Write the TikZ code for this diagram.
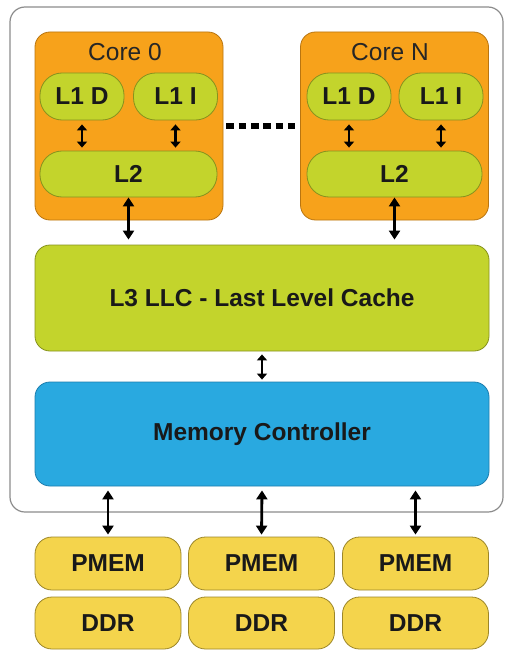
\documentclass[tikz,border=0pt]{standalone}
\usepackage{fontspec}
\setmainfont{Liberation Sans}
\usepackage{tikz}
\usetikzlibrary{arrows.meta,calc}
\definecolor{corefill}{HTML}{F7A21B}
\definecolor{coreline}{HTML}{B97510}
\definecolor{cachefill}{HTML}{C3D42C}
\definecolor{cacheline}{HTML}{86921E}
\definecolor{mcfill}{HTML}{29A9E0}
\definecolor{mcline}{HTML}{1C7DAE}
\definecolor{memfill}{HTML}{F4D44C}
\definecolor{memline}{HTML}{9C8628}
\definecolor{chipline}{HTML}{8C8C8C}
\tikzstyle{box} = [rectangle, rounded corners=15pt, draw, line width=0.8pt, inner sep=0pt,
    font=\fontsize{24.5}{28}\selectfont\bfseries, text=black!90]
\tikzstyle{core} = [box, fill=corefill, draw=coreline, minimum width=188pt, minimum height=188pt]
\tikzstyle{cache} = [box, fill=cachefill, draw=cacheline]
\tikzstyle{pill} = [cache, rounded corners=22pt, minimum width=84pt, minimum height=47pt]
\tikzstyle{mem} = [box, fill=memfill, draw=memline, rounded corners=17pt, minimum width=146pt, minimum height=53pt]
\tikzstyle{link} = [{Triangle[length=9pt,width=11pt]}-{Triangle[length=9pt,width=11pt]}, line width=2.8pt]
\tikzstyle{short} = [{Triangle[length=6pt,width=10pt]}-{Triangle[length=6pt,width=10pt]}, line width=2.8pt]

\begin{document}
\begin{tikzpicture}[x=1pt,y=-1pt]
\useasboundingbox (0,0) rectangle (504,650);

\node[box, draw=chipline, fill=white, line width=1.2pt, minimum width=493pt, minimum height=505pt] (chip) at (256.5,259.5) {};

% cores
\node[core] (core0) at (129,126) {};
\node[font=\fontsize{24.5}{28}\selectfont, text=black!85] (core0label) at (125,52) {Core 0};
\node[pill] (l1d0) at (82,96.5) {L1 D};
\node[pill] (l1i0) at (175.5,96.5) {L1 I};
\node[cache, rounded corners=22pt, minimum width=177pt, minimum height=46pt] (l20) at (128.5,174) {L2};

\node[core] (coreN) at (394.5,126) {};
\node[font=\fontsize{24.5}{28}\selectfont, text=black!85] (coreNlabel) at (390,52) {Core N};
\node[pill] (l1dN) at (349,96.5) {L1 D};
\node[pill] (l1iN) at (441,96.5) {L1 I};
\node[cache, rounded corners=22pt, minimum width=175pt, minimum height=46pt] (l2N) at (394.5,174) {L2};

\draw[line width=6pt, dash pattern=on 7.5pt off 4.8pt] ([xshift=3pt]core0.east) -- ([xshift=-5pt]coreN.west);

% shared
\node[cache, minimum width=454pt, minimum height=106pt] (l3) at (262,298) {L3 LLC - Last Level Cache};
\node[box, fill=mcfill, draw=mcline, minimum width=454pt, minimum height=104pt] (mc) at (262,434) {Memory Controller};

% memory
\node[mem] (pmem1) at (108,563.5) {PMEM};
\node[mem] (pmem2) at (261.5,563.5) {PMEM};
\node[mem] (pmem3) at (415.5,563.5) {PMEM};
\node[mem, minimum height=52pt] (ddr1) at (108,623) {DDR};
\node[mem, minimum height=52pt] (ddr2) at (261.5,623) {DDR};
\node[mem, minimum height=52pt] (ddr3) at (415.5,623) {DDR};

\draw[short] ([yshift=-4pt]l1d0.south) -- ([yshift=3pt]l1d0.south |- l20.north);
\draw[short] ([yshift=-4pt]l1i0.south) -- ([yshift=3pt]l1i0.south |- l20.north);
\draw[short] ([yshift=-4pt]l1dN.south) -- ([yshift=3pt]l1dN.south |- l2N.north);
\draw[short] ([yshift=-4pt]l1iN.south) -- ([yshift=3pt]l1iN.south |- l2N.north);

\draw[link] (l20.south) -- ([yshift=5pt]l20.south |- l3.north);
\draw[link] (l2N.south) -- ([yshift=5pt]l2N.south |- l3.north);
\draw[short] ([yshift=-3pt]l3.south) -- ([yshift=2pt]mc.north);

\draw[link] ([yshift=-4pt]pmem1.north |- mc.south) -- ([yshift=2pt]pmem1.north);
\draw[link] ([yshift=-4pt]mc.south) -- ([yshift=2pt]pmem2.north);
\draw[link] ([yshift=-4pt]pmem3.north |- mc.south) -- ([yshift=2pt]pmem3.north);

\end{tikzpicture}
\end{document}
